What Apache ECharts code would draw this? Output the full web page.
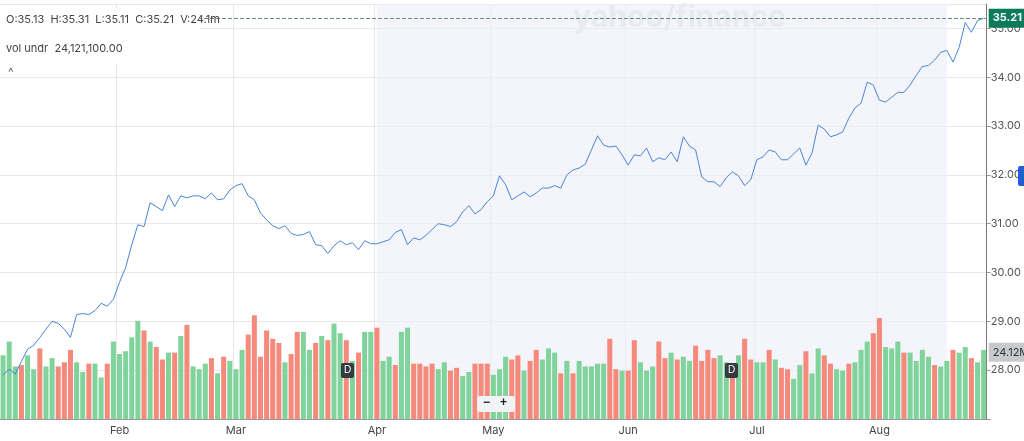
<!DOCTYPE html>
<html>
<head>
<meta charset="utf-8">
<script src="https://cdn.jsdelivr.net/npm/echarts@6/dist/echarts.min.js"></script>
<style>
  html, body { margin: 0; padding: 0; background: #fff; }
  #chart { width: 1024px; height: 441px; }
</style>
</head>
<body>
<div id="chart"></div>
<script>
// trading days, 2023 (weekends and market holidays skipped)
var holidays = ['2023-01-16', '2023-02-20', '2023-04-07', '2023-05-29', '2023-06-19', '2023-07-04'];
var monthNames = ['Jan', 'Feb', 'Mar', 'Apr', 'May', 'Jun', 'Jul', 'Aug', 'Sep'];

var closes = [
  27.90, 28.02, 27.92, 28.18, 28.43, 28.51, 28.67, 28.84, 29.00, 28.96,
  28.84, 28.67, 29.14, 29.16, 29.14, 29.22, 29.37, 29.31, 29.45, 29.80,
  30.10, 30.57, 30.98, 30.94, 31.43, 31.35, 31.27, 31.59, 31.35, 31.57,
  31.53, 31.57, 31.57, 31.51, 31.63, 31.49, 31.51, 31.69, 31.78, 31.82,
  31.57, 31.49, 31.22, 31.08, 30.96, 30.90, 30.96, 30.80, 30.76, 30.78,
  30.84, 30.57, 30.55, 30.39, 30.55, 30.65, 30.57, 30.61, 30.47, 30.65,
  30.59, 30.59, 30.63, 30.67, 30.82, 30.88, 30.57, 30.71, 30.67, 30.76,
  30.88, 31.00, 30.98, 30.94, 31.04, 31.24, 31.37, 31.20, 31.29, 31.45,
  31.57, 31.98, 31.80, 31.49, 31.57, 31.65, 31.55, 31.63, 31.73, 31.73,
  31.78, 31.73, 32.00, 32.10, 32.14, 32.22, 32.51, 32.80, 32.61, 32.57,
  32.59, 32.41, 32.20, 32.41, 32.39, 32.55, 32.27, 32.35, 32.31, 32.47,
  32.27, 32.78, 32.59, 32.51, 31.96, 31.86, 31.86, 31.76, 31.94, 32.06,
  31.98, 31.78, 31.90, 32.31, 32.37, 32.51, 32.47, 32.31, 32.31, 32.43,
  32.55, 32.20, 32.45, 33.02, 32.94, 32.78, 32.82, 32.88, 33.16, 33.37,
  33.47, 33.90, 33.84, 33.53, 33.49, 33.59, 33.69, 33.69, 33.84, 34.04,
  34.22, 34.24, 34.35, 34.51, 34.55, 34.31, 34.61, 35.12, 34.92, 35.16,
  35.21
];

// volume in millions
var volumes = [
  23, 28, 19, 19.5, 23, 18, 25.5, 19, 22, 19,
  20.5, 25, 20.5, 17, 20, 20, 15, 20, 28, 23.5,
  24.5, 29.5, 35.5, 32, 28, 26, 21.5, 24, 24, 30,
  34, 19, 18, 20, 22, 16.5, 22.5, 21, 18, 25,
  30.5, 37.5, 22.5, 32, 29, 27.5, 20.5, 23.5, 31.5, 31.5,
  25, 27.5, 30, 28.5, 34.5, 31, 28.5, 21, 24, 31.5,
  31.5, 33, 21, 22.5, 19.5, 31.5, 33, 20, 20, 19,
  20, 18, 20.5, 17.5, 18.5, 15.5, 17, 20, 20,
  20, 16, 18, 22.5, 21.5, 23, 17.5, 21, 25, 21.5,
  25.5, 24, 16.5, 21, 16.5, 21, 19, 19, 20, 20,
  29, 18, 17.5, 17.5, 28.5, 20.5, 17.5, 19, 28, 22,
  24, 21.5, 22.5, 21, 26.5, 21, 25, 22, 23, 20.5,
  20, 23, 29, 21.5, 20.5, 20.5, 25, 21.5, 18.5, 18,
  14.5, 19.5, 24.5, 16.5, 25.5, 23, 20, 18, 17.5, 20,
  20.5, 25, 28, 31, 36.5, 26, 25.5, 28, 24, 24,
  21, 25, 22.5, 19.5, 19, 21, 25, 24, 26, 22,
  20.5, 25
];

// 1 = green (up), 0 = red (down)
var upDown = [
  1, 1, 1, 0, 1, 1, 0, 1, 1, 0,
  0, 0, 1, 1, 0, 1, 1, 0, 1, 1,
  1, 1, 1, 0, 1, 0, 0, 1, 0, 1,
  0, 1, 1, 1, 0, 1, 0, 1, 1, 1,
  0, 0, 0, 0, 0, 0, 1, 0, 0, 1,
  1, 0, 1, 0, 1, 1, 0, 1, 0, 1,
  1, 0, 1, 1, 0, 1, 1, 0, 0, 0,
  0, 1, 1, 0, 0, 1, 1, 0, 0,
  0, 1, 1, 1, 0, 0, 1, 0, 0, 1,
  1, 1, 0, 1, 0, 1, 1, 1, 1, 1,
  0, 0, 1, 0, 0, 1, 1, 1, 0, 0,
  1, 0, 1, 1, 0, 0, 0, 0, 1, 1,
  0, 1, 0, 0, 1, 1, 0, 1, 0, 0,
  1, 1, 0, 1, 1, 0, 0, 1, 1, 0,
  1, 1, 1, 0, 0, 1, 1, 1, 0, 1,
  1, 1, 1, 0, 1, 1, 0, 1, 1, 0,
  1, 1
];

var lastClose = 35.21;
var lastVolume = 24.12;

var dates = [];
var d = new Date(Date.UTC(2023, 0, 4));
while (dates.length < closes.length) {
  var day = d.getUTCDay();
  var iso = d.toISOString().slice(0, 10);
  if (day !== 0 && day !== 6 && holidays.indexOf(iso) < 0) dates.push(iso);
  d.setUTCDate(d.getUTCDate() + 1);
}

function isMonthStart(i) {
  if (i === 0) return false;
  return dates[i].slice(5, 7) !== dates[i - 1].slice(5, 7);
}

var bars = volumes.map(function (v, i) {
  return { value: v, itemStyle: { color: upDown[i] ? '#7fd39b' : '#f5897b' } };
});

var chart = echarts.init(document.getElementById('chart'), null, { renderer: 'canvas' });

var option = {
  animation: false,
  backgroundColor: '#fff',
  textStyle: { fontFamily: 'Inter, Roboto, sans-serif' },
  grid: { left: 0, right: 29, top: 4, bottom: 22 },
  xAxis: {
    type: 'category',
    data: dates,
    boundaryGap: true,
    axisLine: { lineStyle: { color: '#9a9a9a' } },
    axisTick: {
      alignWithLabel: true,
      interval: function (i) { return isMonthStart(i); },
      lineStyle: { color: '#9a9a9a' }
    },
    axisLabel: {
      interval: function (i) { return isMonthStart(i); },
      formatter: function (v) { return monthNames[+v.slice(5, 7) - 1]; },
      color: '#444',
      fontSize: 11,
      margin: 6
    },
    splitLine: {
      show: true,
      interval: function (i) { return isMonthStart(i); },
      lineStyle: { color: '#e6e6e6' }
    }
  },
  yAxis: [
    {
      type: 'value',
      position: 'right',
      min: 27,
      max: 35.5,
      interval: 1,
      axisLine: { show: true, lineStyle: { color: '#777' } },
      axisTick: { show: true, length: 4, lineStyle: { color: '#999' } },
      axisLabel: {
        showMaxLabel: false,
        color: '#555',
        fontSize: 11,
        margin: 4,
        formatter: function (v) { return v < 28 ? '' : v.toFixed(2); }
      },
      splitLine: { lineStyle: { color: '#e8e8e8' } }
    },
    {
      type: 'value',
      min: 0,
      max: 150,
      show: false
    }
  ],
  series: [
    {
      name: 'vol',
      type: 'bar',
      yAxisIndex: 1,
      data: bars,
      barCategoryGap: '18%',
      z: 2,
      markLine: {
        symbol: 'none',
        silent: true,
        lineStyle: { color: 'rgba(0,0,0,0)', width: 0 },
        label: {
          show: true,
          position: 'end',
          distance: 2,
          formatter: lastVolume.toFixed(2) + 'M',
          backgroundColor: '#c7c9cc',
          color: '#333',
          fontSize: 11,
          padding: [4, 4]
        },
        data: [{ yAxis: lastVolume }]
      }
    },
    {
      name: 'close',
      type: 'line',
      data: closes,
      symbol: 'none',
      z: 3,
      lineStyle: { color: '#4a86d8', width: 1 },
      markArea: {
        silent: true,
        itemStyle: { color: 'rgba(236,239,247,0.65)' },
        data: [[{ xAxis: '2023-04-03' }, { xAxis: '2023-08-16' }]]
      },
      markLine: {
        symbol: 'none',
        silent: true,
        lineStyle: { color: '#6a8a8a', type: 'dashed', width: 1 },
        label: {
          position: 'end',
          distance: 2,
          formatter: lastClose.toFixed(2),
          backgroundColor: '#0b7a5c',
          color: '#fff',
          fontSize: 11,
          fontWeight: 'bold',
          padding: [4, 4]
        },
        data: [{ yAxis: lastClose }]
      }
    }
  ],
  graphic: [
    { type: 'rect', left: 0, top: 8, shape: { width: 200, height: 56 }, style: { fill: '#fff' }, z: 10 },
    { type: 'text', left: 6, top: 14, z: 11,
      style: { text: 'O:35.13  H:35.31  L:35.11  C:35.21  V:24.1m', fill: '#444', fontSize: 11, fontFamily: 'Inter, sans-serif' } },
    { type: 'text', left: 6, top: 43, z: 11,
      style: { text: 'vol undr  24,121,100.00', fill: '#444', fontSize: 11, fontFamily: 'Inter, sans-serif' } },
    { type: 'text', left: 8, top: 66, z: 11,
      style: { text: '^', fill: '#666', fontSize: 12, fontFamily: 'Inter, sans-serif' } },
    { type: 'text', left: 573, top: 3, z: 1,
      style: { text: 'yahoo/finance', fill: '#dfe0e7', fontSize: 30, fontWeight: 'bold', fontFamily: 'Inter, sans-serif' } },
    { type: 'rect', left: 341, top: 363, z: 12, shape: { width: 13, height: 15, r: 2 }, style: { fill: '#333a40' } },
    { type: 'text', left: 344, top: 365, z: 13, style: { text: 'D', fill: '#fff', fontSize: 10 } },
    { type: 'rect', left: 725, top: 363, z: 12, shape: { width: 13, height: 15, r: 2 }, style: { fill: '#333a40' } },
    { type: 'text', left: 728, top: 365, z: 13, style: { text: 'D', fill: '#fff', fontSize: 10 } },
    { type: 'rect', left: 477, top: 396, z: 12, shape: { width: 38, height: 16, r: 3 }, style: { fill: '#f2f3f5' } },
    { type: 'text', left: 483, top: 397, z: 13, style: { text: '\u2212   +', fill: '#222', fontSize: 12, fontWeight: 'bold' } },
    { type: 'rect', left: 1018, top: 166, z: 12, shape: { width: 8, height: 20, r: 2 }, style: { fill: '#1f5fd0' } }
  ]
};

chart.setOption(option);
</script>
</body>
</html>
